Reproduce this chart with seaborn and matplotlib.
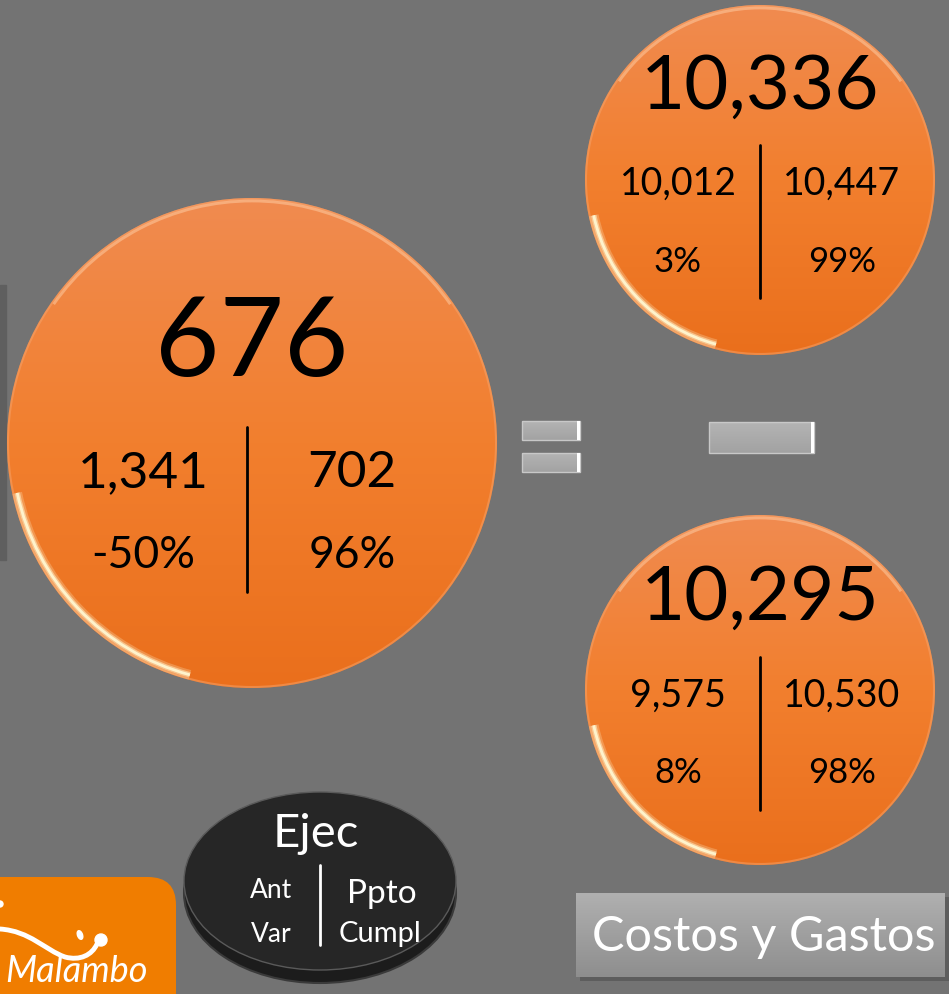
import numpy as np
import matplotlib
matplotlib.use("Agg")
import matplotlib.pyplot as plt
import seaborn as sns
from matplotlib.patches import Circle, Rectangle, Ellipse, FancyBboxPatch, Arc, PathPatch
from matplotlib.path import Path
from matplotlib.colors import LinearSegmentedColormap

# ---- data ----
ejec = [676, 10336, 10295]
ant = [1341, 10012, 9575]
ppto = [702, 10447, 10530]
var_pct = [-50, 3, 8]
cumpl_pct = [96, 99, 98]
legend_top = "Ejec"
legend_left = ["Ant", "Var"]
legend_right = ["Ppto", "Cumpl"]
title = "Costos y Gastos"
brand = "Malambo"

sns.set_theme(style="white")
plt.rcParams['font.family'] = ['Lato', 'DejaVu Sans']

W, H = 949, 994
BG = "#737373"
fig = plt.figure(figsize=(W / 100, H / 100), dpi=100, facecolor=BG)
ax = fig.add_axes([0, 0, 1, 1])
ax.set_facecolor(BG)
ax.axis("off")

layout = [
    dict(cx=252, cy=443, r=245, fm=80, fs=37, fp=32, ym=345, ys=473, yp=555, xl=143, xr=352, sx=247, ly=(427, 592)),
    dict(cx=760, cy=180, r=175, fm=55, fs=27, fp=25, ym=87, ys=184, yp=262, xl=678, xr=842, sx=760, ly=(145, 298)),
    dict(cx=760, cy=690, r=175, fm=55, fs=27, fp=25, ym=598, ys=696, yp=773, xl=678, xr=842, sx=760, ly=(657, 810)),
]

grad = np.linspace(0, 1, 256)[:, None]
ocmap = LinearSegmentedColormap.from_list("o", ["#f08b50", "#f27f2e", "#ea6f1c"])

# left dark strip
ax.add_patch(Rectangle((0, 285), 6, 275, color="#5f5f5f", zorder=1))

for i, L in enumerate(layout):
    cx, cy, r = L["cx"], L["cy"], L["r"]
    c = Circle((cx, cy), r, facecolor="none", edgecolor="none", zorder=2)
    ax.add_patch(c)
    im = ax.imshow(grad, cmap=ocmap, extent=(cx - r, cx + r, cy + r, cy - r),
                   origin="upper", aspect="auto", zorder=2)
    im.set_clip_path(c)
    ax.add_patch(Circle((cx, cy), r - 1, facecolor="none", edgecolor="#f6a46c", lw=1.5, alpha=0.5, zorder=3))
    for lw, a in [(7, 0.25), (4, 0.5), (2, 0.95)]:
        ax.add_patch(Arc((cx, cy), 2 * r - 10, 2 * r - 10, theta1=105, theta2=168,
                         color="#fff6d0", lw=lw, alpha=a, zorder=3))
    ax.add_patch(Arc((cx, cy), 2 * r - 6, 2 * r - 6, theta1=215, theta2=325,
                     color="#ffd0a8", lw=2, alpha=0.5, zorder=3))
    ax.text(cx, L["ym"], f"{ejec[i]:,}", fontsize=L["fm"], ha="center", va="center", color="black", zorder=4)
    ax.text(L["xl"], L["ys"], f"{ant[i]:,}", fontsize=L["fs"], ha="center", va="center", color="black", zorder=4)
    ax.text(L["xr"], L["ys"], f"{ppto[i]:,}", fontsize=L["fs"], ha="center", va="center", color="black", zorder=4)
    ax.text(L["xl"], L["yp"], f"{var_pct[i]}%", fontsize=L["fp"], ha="center", va="center", color="black", zorder=4)
    ax.text(L["xr"], L["yp"], f"{cumpl_pct[i]}%", fontsize=L["fp"], ha="center", va="center", color="black", zorder=4)
    ax.plot([L["sx"], L["sx"]], list(L["ly"]), color="black", lw=2, zorder=4)

# equals and minus signs
bcmap = LinearSegmentedColormap.from_list("b", ["#b4b4b4", "#a2a2a2"])
def bar(x, y, w, h):
    rect = Rectangle((x, y), w, h, facecolor="none", edgecolor="#c8c8c8", lw=1, zorder=3)
    ax.add_patch(rect)
    imb = ax.imshow(grad, cmap=bcmap, extent=(x, x + w, y + h, y), origin="upper", aspect="auto", zorder=2)
    imb.set_clip_path(rect)
    ax.add_patch(Rectangle((x + w - 3, y), 3, h, facecolor="white", edgecolor="none", zorder=3))

bar(522, 421, 58, 19)
bar(522, 453, 58, 19)
bar(709, 422, 105, 31)

# legend disc
ax.add_patch(Ellipse((320, 893), 272, 180, facecolor="#1c1c1c", edgecolor="#3a3a3a", lw=1.5, zorder=2))
ax.add_patch(Ellipse((320, 881), 272, 178, facecolor="#262626", edgecolor="#5a5a5a", lw=1, zorder=3))
ax.text(316, 834, legend_top, fontsize=34, color="white", ha="center", va="center", zorder=4)
ax.text(271, 891, legend_left[0], fontsize=19, color="white", ha="center", va="center", zorder=4)
ax.text(271, 934, legend_left[1], fontsize=19, color="white", ha="center", va="center", zorder=4)
ax.text(382, 894, legend_right[0], fontsize=24, color="white", ha="center", va="center", zorder=4)
ax.text(380, 934, legend_right[1], fontsize=21, color="white", ha="center", va="center", zorder=4)
ax.plot([320, 320], [865, 945], color="white", lw=2, zorder=4)

# title box
ax.add_patch(Rectangle((580, 897), 369, 84, facecolor="#4f4f4f", alpha=0.6, edgecolor="none", zorder=2))
box = Rectangle((576, 893), 369, 84, facecolor="none", edgecolor="none", zorder=3)
ax.add_patch(box)
gcmap = LinearSegmentedColormap.from_list("g", ["#b0b0b0", "#8e8e8e"])
im2 = ax.imshow(grad, cmap=gcmap, extent=(576, 945, 977, 893), origin="upper", aspect="auto", zorder=3)
im2.set_clip_path(box)
ax.text(764, 937, title, fontsize=35, color="white", ha="center", va="center", zorder=4)

# logo
ax.add_patch(FancyBboxPatch((-40, 877), 216, 160, boxstyle="round,pad=0,rounding_size=28",
                            facecolor="#f07d00", edgecolor="none", zorder=2))
sw_verts = [(0, 929), (30, 931), (45, 950), (65, 957), (80, 961), (92, 955), (97, 944)]
sw_codes = [Path.MOVETO, Path.CURVE4, Path.CURVE4, Path.CURVE4, Path.CURVE4, Path.CURVE4, Path.CURVE4]
ax.add_patch(PathPatch(Path(sw_verts, sw_codes), facecolor="none", edgecolor="white",
                       lw=3.5, capstyle="round", zorder=3))
ax.add_patch(Circle((101, 940), 6, color="white", zorder=3))
ax.add_patch(Ellipse((80, 935), 5, 9, angle=-20, color="white", zorder=3))
ax.add_patch(Circle((0, 904), 3, color="white", zorder=3))
ax.text(76, 971, brand, fontsize=26, color="white", style="italic", ha="center", va="center", zorder=4)

ax.set_xlim(0, W)
ax.set_ylim(H, 0)
fig.savefig("out.png", dpi=100, facecolor=BG)
